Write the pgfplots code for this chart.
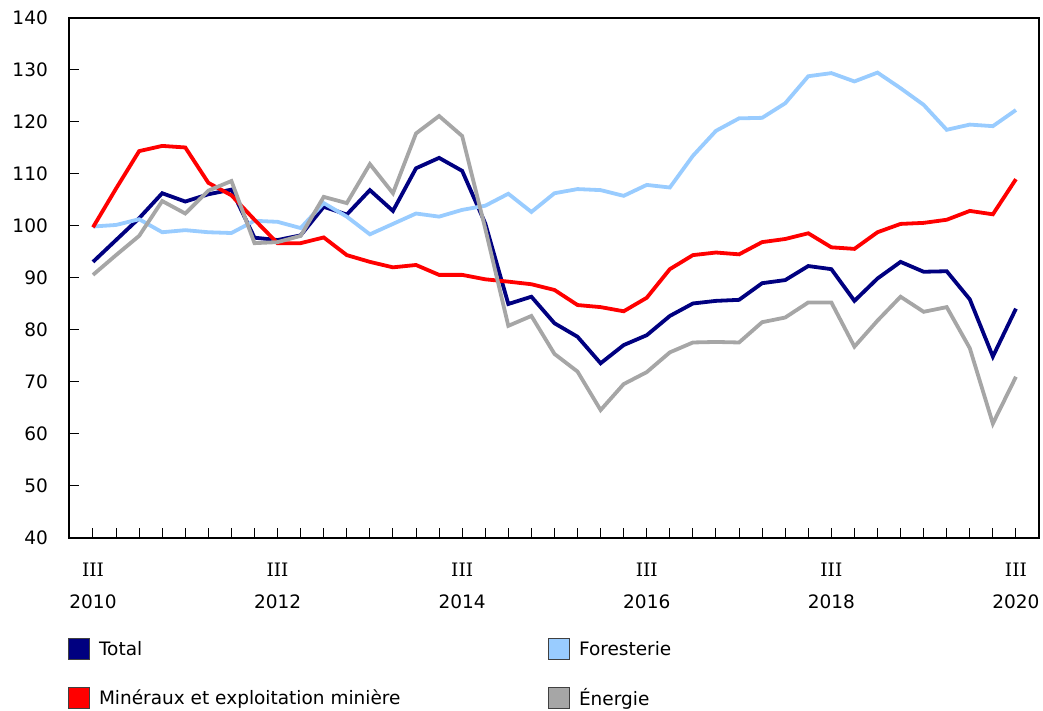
\documentclass[border=0pt]{standalone}
\usepackage{pgfplots}
\pgfplotsset{compat=1.18}
\usepackage{fontspec}
\setmainfont{DejaVu Sans}
\newfontfamily\serifI{DejaVu Serif}
\definecolor{cTotal}{HTML}{000080}
\definecolor{cFor}{HTML}{99CCFF}
\definecolor{cMin}{HTML}{FF0000}
\definecolor{cEne}{HTML}{A6A6A6}
\definecolor{cBord}{HTML}{404040}
\newcommand{\lbox}[1]{\path[draw=none,fill=none] (0pt,-25pt) -- (0pt,24pt); \draw[fill=#1, draw=cBord, line width=1pt] (0pt,-10.5pt) rectangle (21pt,10.5pt);}

\pgfplotstableread{
x total foresterie mineraux energie
0 93.1 99.9 99.75 90.6
1 97.3 100.2 107.2 94.4
2 101.5 101.3 114.4 98.1
3 106.3 98.8 115.4 104.8
4 104.7 99.2 115.1 102.4
5 106.1 98.8 108.3 106.8
6 107.0 98.65 105.9 108.65
7 97.75 101.0 101.2 96.7
8 97.3 100.8 96.7 96.9
9 98.2 99.6 96.7 98.1
10 103.7 104.4 97.8 105.6
11 102.2 101.8 94.4 104.4
12 106.9 98.4 93.1 111.9
13 102.9 100.4 92.05 106.3
14 111.1 102.4 92.5 117.8
15 113.1 101.8 90.6 121.15
16 110.6 103.1 90.6 117.3
17 100.5 103.9 89.75 99.5
18 85.0 106.2 89.3 80.8
19 86.4 102.7 88.8 82.7
20 81.3 106.3 87.7 75.4
21 78.7 107.1 84.8 72.0
22 73.6 106.9 84.4 64.6
23 77.1 105.8 83.6 69.6
24 79.0 107.9 86.2 71.9
25 82.7 107.4 91.7 75.7
26 85.1 113.5 94.4 77.6
27 85.6 118.3 94.9 77.7
28 85.8 120.7 94.55 77.6
29 89.0 120.8 96.9 81.5
30 89.6 123.6 97.5 82.4
31 92.3 128.8 98.6 85.3
32 91.7 129.4 95.9 85.3
33 85.6 127.8 95.6 76.8
34 89.9 129.5 98.8 81.8
35 93.1 126.5 100.4 86.4
36 91.2 123.3 100.6 83.5
37 91.3 118.5 101.2 84.4
38 85.9 119.5 102.9 76.5
39 74.9 119.2 102.25 62.0
40 84.1 122.3 109.0 71.0
}\datatable

\begin{document}
\begin{tikzpicture}
\begin{axis}[
  scale only axis, width=970pt, height=520pt,
  xmin=-1.04, xmax=41.0, ymin=40, ymax=140,
  ytick={40,50,...,140},
  xtick={0,8,...,40},
  minor xtick={0,...,40},
  xticklabels={{{\serifI III}\\2010},{{\serifI III}\\2012},{{\serifI III}\\2014},{{\serifI III}\\2016},{{\serifI III}\\2018},{{\serifI III}\\2020}},
  tick align=inside, xtick pos=bottom, ytick pos=left,
  major tick length=10pt, minor tick length=10pt,
  tick style={black, line width=1pt},
  axis line style={black, line width=1.3pt},
  /pgf/number format/assume math mode=true,
  yticklabel style={inner sep=0pt, xshift=-21pt, font=\fontsize{18.5}{22}\selectfont},
  xticklabel style={inner sep=0pt, yshift=-25pt, align=center, font=\fontsize{18.5}{32}\selectfont},
  legend columns=2,
  legend cell align=left,
  legend style={draw=none, fill=none, inner sep=0pt, outer sep=0pt, column sep=0pt, row sep=0pt,
    at={(-0.001,-0.1672)}, anchor=north west, font=\fontsize{18.5}{22}\selectfont, nodes={inner sep=0pt}},
]
\addplot[cTotal, line width=3.8pt, legend image code/.code={\lbox{cTotal}}] table[x=x, y=total] {\datatable};
\addlegendentry{\makebox[458pt][l]{\hspace*{9pt}Total}}
\addplot[cFor, line width=3.8pt, legend image code/.code={\lbox{cFor}}] table[x=x, y=foresterie] {\datatable};
\addlegendentry{\hspace*{9pt}Foresterie}
\addplot[cMin, line width=3.8pt, legend image code/.code={\lbox{cMin}}] table[x=x, y=mineraux] {\datatable};
\addlegendentry{\makebox[458pt][l]{\hspace*{9pt}Minéraux et exploitation minière}}
\addplot[cEne, line width=3.8pt, legend image code/.code={\lbox{cEne}}] table[x=x, y=energie] {\datatable};
\addlegendentry{\hspace*{9pt}Énergie}
\end{axis}
\pgfresetboundingbox
\path[use as bounding box] ([xshift=-69pt,yshift=-173pt]current axis.south west) rectangle ([xshift=4pt,yshift=18pt]current axis.north east);
\end{tikzpicture}
\end{document}
